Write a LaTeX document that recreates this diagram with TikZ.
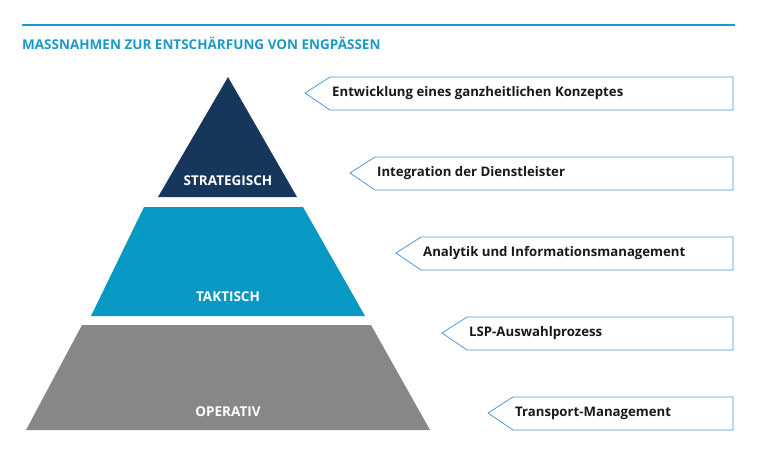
\documentclass[tikz,border=0pt]{standalone}
\usepackage{fontspec}
\setmainfont{Open Sans}
\begin{document}
\begin{tikzpicture}[x=1pt,y=-1pt,
  lbl/.style={anchor=west,font=\bfseries\fontsize{13.2}{15}\selectfont,text=black!90,inner sep=0},
  lvl/.style={font=\bfseries\fontsize{13.5}{15}\selectfont,text=white},
  box/.style={draw=cyan!60!blue!70,line width=0.8pt,fill=white}]
\useasboundingbox (0,0) rectangle (760,456);
\definecolor{navy}{HTML}{16365C}
\definecolor{teal}{HTML}{0898C4}
\definecolor{gr}{HTML}{878787}
\definecolor{tl}{HTML}{1A9AC6}
\draw[tl,line width=1.2pt] (22,25) -- (735,25);
\node[anchor=west,inner sep=0,text=tl,font=\bfseries\fontsize{13.5}{15}\selectfont] (title) at (22,43) {MASSNAHMEN ZUR ENTSCHÄRFUNG VON ENGPÄSSEN};
\fill[navy] (228,77) -- (297,197) -- (158,197) -- cycle;
\fill[teal] (144,207) -- (303,207) -- (365,316) -- (91,316) -- cycle;
\fill[gr] (82,325) -- (371,325) -- (430,430) -- (26,430) -- cycle;
\node[lvl] (s) at (228,181) {STRATEGISCH};
\node[lvl] (t) at (228,297) {TAKTISCH};
\node[lvl] (o) at (228,412) {OPERATIV};
\foreach \tip/\y/\t [count=\i] in {305/93/Entwicklung eines ganzheitlichen Konzeptes,350/173/Integration der Dienstleister,396/253/Analytik und Informationsmanagement,442/333/LSP-Auswahlprozess,488/413/Transport-Management}{
  \draw[box] (\tip,\y) -- (\tip+25,\y-16) -- (733,\y-16) -- (733,\y+17) -- (\tip+25,\y+17) -- cycle;
  \node[lbl] (l\i) at (\tip+27,\y) {\t};
}
\end{tikzpicture}
\end{document}
